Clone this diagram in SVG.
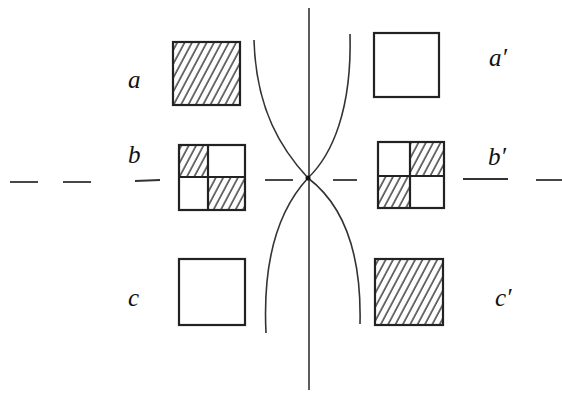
<svg xmlns="http://www.w3.org/2000/svg" width="562" height="399" viewBox="0 0 562 399">
<defs>
<pattern id="hatch" patternUnits="userSpaceOnUse" width="6.5" height="8" patternTransform="rotate(28)">
<line x1="1" y1="-2" x2="1" y2="10" stroke="#333" stroke-width="1.4"/>
</pattern>
</defs>
<style>
.box{fill:none;stroke:#222;stroke-width:2.2}
.h{fill:url(#hatch);stroke:none}
.ln{fill:none;stroke:#333;stroke-width:1.6}
.dash{stroke:#333;stroke-width:1.8}
.lbl{font-family:"Liberation Serif",serif;font-style:italic;font-size:25px;fill:#111}
</style>
<rect width="562" height="399" fill="#fff"/>
<g id="connectors">
<line class="ln" x1="309" y1="8" x2="309" y2="390"/>
<path class="ln" d="M254,40 C256,110 282,150 308,178"/>
<path class="ln" d="M350,34 C352,110 332,155 308,178"/>
<path class="ln" d="M308,178 C283,205 262,250 266,333"/>
<path class="ln" d="M308,178 C337,200 362,240 360,324"/>
<circle cx="308" cy="178" r="2.5" fill="#111"/>
<g class="dash">
<line x1="10" y1="182" x2="38" y2="182"/>
<line x1="63" y1="182" x2="91" y2="182"/>
<line x1="135" y1="181" x2="160" y2="180"/>
<line x1="265" y1="180" x2="293" y2="180"/>
<line x1="333" y1="180" x2="357" y2="180"/>
<line x1="463" y1="179" x2="508" y2="179"/>
<line x1="536" y1="180" x2="562" y2="180"/>
</g>
</g>
<g id="a">
<rect class="h" x="173" y="42" width="67" height="63"/>
<rect class="box" x="173" y="42" width="67" height="63"/>
<text class="lbl" x="128" y="88">a</text>
</g>
<g id="a-prime">
<rect class="box" x="374" y="33" width="65" height="64"/>
<text class="lbl" x="489" y="66">a′</text>
</g>
<g id="b">
<rect class="h" x="179" y="145" width="29" height="32"/>
<rect class="h" x="208" y="177" width="37" height="33"/>
<rect class="box" x="179" y="145" width="66" height="65"/>
<line class="box" x1="208" y1="145" x2="208" y2="210"/>
<line class="box" x1="179" y1="177" x2="245" y2="177"/>
<text class="lbl" x="128" y="163">b</text>
</g>
<g id="b-prime">
<rect class="h" x="410" y="142" width="34" height="34"/>
<rect class="h" x="378" y="176" width="32" height="32"/>
<rect class="box" x="378" y="142" width="66" height="66"/>
<line class="box" x1="410" y1="142" x2="410" y2="208"/>
<line class="box" x1="378" y1="176" x2="444" y2="176"/>
<text class="lbl" x="488" y="165">b′</text>
</g>
<g id="c">
<rect class="box" x="179" y="259" width="66" height="66"/>
<text class="lbl" x="128" y="306">c</text>
</g>
<g id="c-prime">
<rect class="h" x="375" y="259" width="68" height="66"/>
<rect class="box" x="375" y="259" width="68" height="66"/>
<text class="lbl" x="495" y="306">c′</text>
</g>
</svg>
